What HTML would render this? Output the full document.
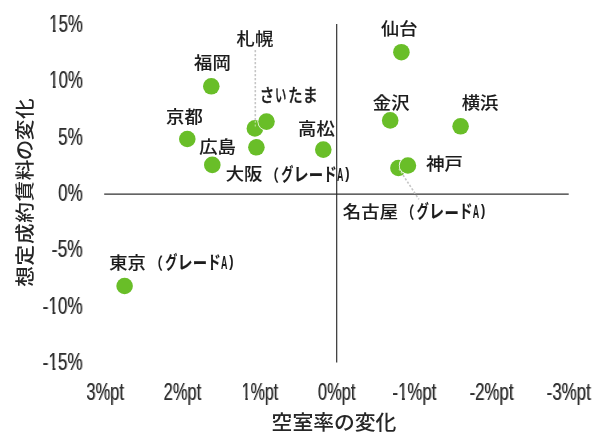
<!DOCTYPE html>
<html lang="ja">
<head>
<meta charset="utf-8">
<title>空室率の変化 / 想定成約賃料の変化</title>
<style>
html,body{margin:0;padding:0;background:#fff;}
body{width:600px;height:436px;overflow:hidden;}
svg{display:block;}
text{font-family:"Liberation Sans","Noto Sans CJK JP",sans-serif;}
.jp{font-size:16.5px;font-weight:500;fill:#1c1c1c;stroke:#1c1c1c;stroke-width:0.1px;}
.tk{font-size:24.4px;fill:#303030;filter:drop-shadow(1px 0 0 rgba(48,48,48,0.4));}
.ax{font-size:20.8px;font-weight:500;fill:#262626;}
.pt circle{fill:#69be28;}
.pt .h{fill:#fff;}
</style>
</head>
<body>
<svg width="600" height="436" viewBox="0 0 600 436">
<rect width="600" height="436" fill="#fff"/>
<!-- axes -->
<line x1="104.2" y1="194.05" x2="568.7" y2="194.05" stroke="#303030" stroke-width="1.2"/>
<line x1="336.7" y1="24" x2="336.7" y2="362.5" stroke="#2a2a2a" stroke-width="1.15"/>
<!-- y axis tick labels -->
<g class="tk" text-anchor="end">
<text x="82.6" y="32.2" textLength="33.5" lengthAdjust="spacingAndGlyphs">15%</text>
<text x="82.6" y="88.4" textLength="33.5" lengthAdjust="spacingAndGlyphs">10%</text>
<text x="82.6" y="144.7" textLength="24.5" lengthAdjust="spacingAndGlyphs">5%</text>
<text x="82.6" y="201.2" textLength="24.5" lengthAdjust="spacingAndGlyphs">0%</text>
<text x="82.6" y="257.3" textLength="31" lengthAdjust="spacingAndGlyphs">-5%</text>
<text x="82.6" y="313.6" textLength="40" lengthAdjust="spacingAndGlyphs">-10%</text>
<text x="82.6" y="369.8" textLength="40" lengthAdjust="spacingAndGlyphs">-15%</text>
</g>
<!-- x axis tick labels -->
<g class="tk" text-anchor="middle">
<text x="105" y="400.3" textLength="37.5" lengthAdjust="spacingAndGlyphs">3%pt</text>
<text x="182.3" y="400.3" textLength="37.5" lengthAdjust="spacingAndGlyphs">2%pt</text>
<text x="259.8" y="400.3" textLength="36.5" lengthAdjust="spacingAndGlyphs">1%pt</text>
<text x="336.5" y="400.3" textLength="37.5" lengthAdjust="spacingAndGlyphs">0%pt</text>
<text x="414.3" y="400.3" textLength="44" lengthAdjust="spacingAndGlyphs">-1%pt</text>
<text x="491.4" y="400.3" textLength="44" lengthAdjust="spacingAndGlyphs">-2%pt</text>
<text x="568.6" y="400.3" textLength="44" lengthAdjust="spacingAndGlyphs">-3%pt</text>
</g>
<!-- trim the base serif of the digit 1 (plain-stem numeral) -->
<g fill="#fff">
<rect x="49.0" y="29.3" width="3.8" height="3.3"/><rect x="55.7" y="29.3" width="2.9" height="3.3"/>
<rect x="49.0" y="85.3" width="3.8" height="3.3"/><rect x="55.7" y="85.3" width="2.9" height="3.3"/>
<rect x="48.6" y="311.3" width="3.9" height="3.3"/><rect x="55.5" y="311.3" width="3" height="3.3"/>
<rect x="48.6" y="367.3" width="3.9" height="3.3"/><rect x="55.5" y="367.3" width="3" height="3.3"/>
<rect x="241.4" y="397.3" width="3.9" height="3.3"/><rect x="247.8" y="397.3" width="3.2" height="3.3"/>
<rect x="398.2" y="397.3" width="3.7" height="3.3"/><rect x="404.9" y="397.3" width="3.7" height="3.3"/>
</g>
<!-- axis titles -->
<text class="ax" x="334" y="429.5" text-anchor="middle">空室率の変化</text>
<text class="ax" style="font-size:19.3px" transform="translate(32.3,0) rotate(-90) scale(1.067 1)" x="-268.7 -248.73 -228.77 -208.81 -188.85 -168.88 -150.14 -131.4 -111.43" y="0">想定成約賃料の変化</text>
<!-- data points -->
<g class="pt">
<circle class="h" cx="401.4" cy="52.2" r="9.05"/><circle cx="401.4" cy="52.2" r="8.3"/>
<circle class="h" cx="211.3" cy="86.3" r="9.05"/><circle cx="211.3" cy="86.3" r="8.3"/>
<circle class="h" cx="254.9" cy="128.4" r="9.05"/><circle cx="254.9" cy="128.4" r="8.3"/>
<circle class="h" cx="266.5" cy="121.6" r="9.05"/><circle cx="266.5" cy="121.6" r="8.3"/>
<circle class="h" cx="187.3" cy="139.0" r="9.05"/><circle cx="187.3" cy="139.0" r="8.3"/>
<circle class="h" cx="256.4" cy="147.3" r="9.05"/><circle cx="256.4" cy="147.3" r="8.3"/>
<circle class="h" cx="212.3" cy="164.9" r="9.05"/><circle cx="212.3" cy="164.9" r="8.3"/>
<circle class="h" cx="323.3" cy="149.6" r="9.05"/><circle cx="323.3" cy="149.6" r="8.3"/>
<circle class="h" cx="390.2" cy="120.4" r="9.05"/><circle cx="390.2" cy="120.4" r="8.3"/>
<circle class="h" cx="460.6" cy="126.3" r="9.05"/><circle cx="460.6" cy="126.3" r="8.3"/>
<circle class="h" cx="398.4" cy="168.0" r="9.05"/><circle cx="398.4" cy="168.0" r="8.3"/>
<circle class="h" cx="407.9" cy="165.5" r="9.05"/><circle cx="407.9" cy="165.5" r="8.3"/>
<circle class="h" cx="124.6" cy="286.0" r="9.05"/><circle cx="124.6" cy="286.0" r="8.3"/>
</g>
<!-- leader lines -->
<g stroke="#c6c6c6" stroke-width="1.6" stroke-dasharray="2.2,1.8" fill="none">
<line x1="255.3" y1="50" x2="255.3" y2="120"/>
<line x1="403" y1="175" x2="418.9" y2="199.4"/>
</g>
<g stroke="#fff" stroke-width="1.2" stroke-dasharray="2,1.6" fill="none" opacity="0.5">
<line x1="255.3" y1="120.8" x2="255.3" y2="128"/>
<line x1="399" y1="168.9" x2="403" y2="175"/>
</g>
<!-- data labels -->
<g class="jp">
<text transform="translate(380.91 35.05) scale(1.11 1)"><tspan x="0 16.62">仙台</tspan></text>
<text transform="translate(194.1 68.55) scale(1.11 1)"><tspan x="0 16.62">福岡</tspan></text>
<text transform="translate(236.62 45.05) scale(1.11 1)"><tspan x="0 16.62">札幌</tspan></text>
<text stroke-width="0.35" transform="translate(261.4 102) scale(1.11 1)"><tspan x="-1.6" textLength="13" lengthAdjust="spacingAndGlyphs" font-size="18">さ</tspan><tspan x="12.26" textLength="10.23" lengthAdjust="spacingAndGlyphs" font-size="18">い</tspan><tspan x="24.25" textLength="12.84" lengthAdjust="spacingAndGlyphs" font-size="18">た</tspan><tspan x="37.35" textLength="13.58" lengthAdjust="spacingAndGlyphs" font-size="18">ま</tspan></text>
<text transform="translate(166.07 123.05) scale(1.11 1)"><tspan x="0 16.62">京都</tspan></text>
<text transform="translate(199.15 153.05) scale(1.11 1)"><tspan x="0 16.62">広島</tspan></text>
<text transform="translate(298.04 134.8) scale(1.11 1)"><tspan x="0 16.62">高松</tspan></text>
<text transform="translate(372.72 108.55) scale(1.11 1)"><tspan x="0 16.62">金沢</tspan></text>
<text transform="translate(461.67 108.55) scale(1.11 1)"><tspan x="0 16.62">横浜</tspan></text>
<text transform="translate(426.15 170.45) scale(1.11 1)"><tspan x="0 16.62">神戸</tspan></text>
<text transform="translate(225.68 180.3) scale(1.11 1)"><tspan x="0 16.62">大阪</tspan><tspan dy="1.4" x="36" textLength="11.82" lengthAdjust="spacingAndGlyphs" font-weight="700">（</tspan><tspan dy="-1.1" x="50" textLength="10.87" lengthAdjust="spacingAndGlyphs" font-weight="700" font-size="18.3">グ</tspan><tspan x="61.03" textLength="13.57" lengthAdjust="spacingAndGlyphs" font-weight="700" font-size="18.3">レ</tspan><tspan dy="1.5" x="74.81" textLength="13.03" lengthAdjust="spacingAndGlyphs" font-weight="700" font-size="18.3">ー</tspan><tspan dy="-1.5" x="87.9" textLength="12.22" lengthAdjust="spacingAndGlyphs" font-weight="700" font-size="18.3">ド</tspan><tspan x="100.39" textLength="5.77" lengthAdjust="spacingAndGlyphs" font-weight="700" font-size="18.3">A</tspan><tspan dy="-2.1" x="107.72" textLength="3.84" lengthAdjust="spacingAndGlyphs" font-weight="700">)</tspan></text>
<text transform="translate(342.86 218) scale(1.11 1)"><tspan x="0 16.62 33.24">名古屋</tspan><tspan dy="1.4" x="52.68" textLength="11.82" lengthAdjust="spacingAndGlyphs" font-weight="700">（</tspan><tspan dy="-1.1" x="66.67" textLength="10.87" lengthAdjust="spacingAndGlyphs" font-weight="700" font-size="18.3">グ</tspan><tspan x="77.71" textLength="13.57" lengthAdjust="spacingAndGlyphs" font-weight="700" font-size="18.3">レ</tspan><tspan dy="1.5" x="91.49" textLength="13.03" lengthAdjust="spacingAndGlyphs" font-weight="700" font-size="18.3">ー</tspan><tspan dy="-1.5" x="104.58" textLength="12.22" lengthAdjust="spacingAndGlyphs" font-weight="700" font-size="18.3">ド</tspan><tspan x="117.07" textLength="5.77" lengthAdjust="spacingAndGlyphs" font-weight="700" font-size="18.3">A</tspan><tspan dy="-2.1" x="124.4" textLength="3.84" lengthAdjust="spacingAndGlyphs" font-weight="700">)</tspan></text>
<text transform="translate(109.18 268.5) scale(1.11 1)"><tspan x="0 16.62">東京</tspan><tspan dy="1.4" x="36.45" textLength="11.82" lengthAdjust="spacingAndGlyphs" font-weight="700">（</tspan><tspan dy="-1.1" x="50.45" textLength="10.87" lengthAdjust="spacingAndGlyphs" font-weight="700" font-size="18.3">グ</tspan><tspan x="61.48" textLength="13.57" lengthAdjust="spacingAndGlyphs" font-weight="700" font-size="18.3">レ</tspan><tspan dy="1.5" x="75.26" textLength="13.03" lengthAdjust="spacingAndGlyphs" font-weight="700" font-size="18.3">ー</tspan><tspan dy="-1.5" x="88.35" textLength="12.22" lengthAdjust="spacingAndGlyphs" font-weight="700" font-size="18.3">ド</tspan><tspan x="100.84" textLength="5.77" lengthAdjust="spacingAndGlyphs" font-weight="700" font-size="18.3">A</tspan><tspan dy="-2.1" x="108.17" textLength="3.84" lengthAdjust="spacingAndGlyphs" font-weight="700">)</tspan></text>
</g>
</svg>
</body>
</html>
